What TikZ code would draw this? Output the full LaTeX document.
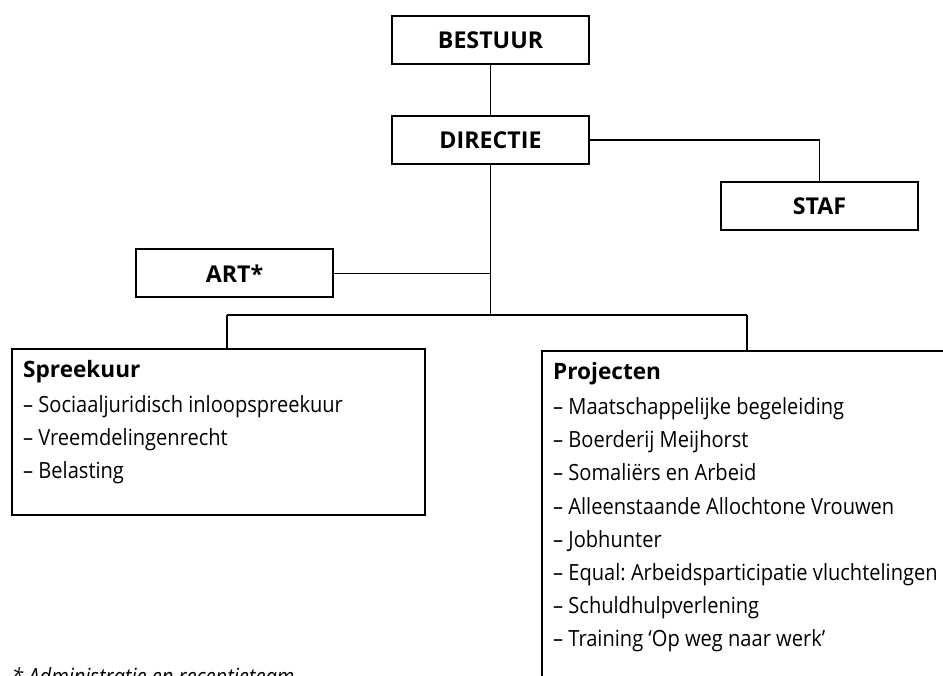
\documentclass[tikz,border=0pt]{standalone}
\usepackage{fontspec}
\setmainfont{Open Sans}[Ligatures=NoCommon,FakeStretch=0.9,BoldFeatures={FakeStretch=1}]
\usepackage{tikz}
\usetikzlibrary{positioning}
\frenchspacing
\tikzstyle{unit}=[draw,line width=2pt,minimum width=197pt,minimum height=48pt,inner sep=0pt,font=\fontsize{23.2}{26}\selectfont\bfseries]
\tikzstyle{listbox}=[draw,line width=2pt,inner sep=0pt,anchor=north west]
\tikzstyle{listtext}=[anchor=north west,align=left,inner sep=0pt,font=\fontsize{22.3}{33.2}\selectfont]
\tikzstyle{link}=[draw,line width=1.6pt]
\newcommand{\kop}[1]{{\fontsize{22.6}{33}\selectfont\bfseries #1}}

\begin{document}
\begin{tikzpicture}[x=1pt,y=-1pt]
	\useasboundingbox (0,0) rectangle (943,676);
	\clip (0,0) rectangle (943,676);
	% First we draw the units
	\foreach \pos/\name/\label in {{(490.5,40)/bestuur/BESTUUR}, {(490.5,140)/directie/DIRECTIE},
		{(819.5,206.5)/staf/STAF}, {(234.5,273.5)/art/ART*}}
	\node[unit] (\name) at \pos {\label};

	% The two departments with their lists
	\node[listbox,minimum width=413pt,minimum height=166pt] (spreekuur) at (11,348) {};
	\node[listtext] (spreekuurlist) at ([shift={(12,12)}]spreekuur.north west)
		{\kop{Spreekuur}\\[2pt]
		 -- Sociaaljuridisch inloopspreekuur\\
		 -- Vreemdelingenrecht\\
		 -- Belasting};
	\node[listbox,minimum width=460pt,minimum height=380pt] (projecten) at (541,350) {};
	\node[listtext] (projectenlist) at ([shift={(12,12)}]projecten.north west)
		{\kop{Projecten}\\[2pt]
		 -- Maatschappelijke begeleiding\\
		 -- Boerderij Meijhorst\\
		 -- Somaliërs en Arbeid\\
		 -- Alleenstaande Allochtone Vrouwen\\
		 -- Jobhunter\\
		 -- Equal: Arbeidsparticipatie vluchtelingen\\
		 -- Schuldhulpverlening\\
		 -- Training ‘Op weg naar werk’};

	% Connect the units
	\coordinate (bus) at (490.5,315);
	\coordinate (busL) at (227,315);
	\coordinate (busR) at (747,315);
	\path[link] (bestuur) -- (directie);
	\path[link] (directie) -| (staf);
	\path[link] (directie) -- (bus);
	\path[link] (art) -- (art -| bus);
	\path[link] (busL) -- (busR);
	\path[link] (busL) -- (busL |- spreekuur.north);
	\path[link] (busR) -- (busR |- projecten.north);

	% Footnote
	\node[anchor=base west,inner sep=0pt,font=\fontsize{22.3}{26}\selectfont\itshape] (noot) at (12,684)
		{* Administratie en receptieteam};
\end{tikzpicture}
\end{document}
